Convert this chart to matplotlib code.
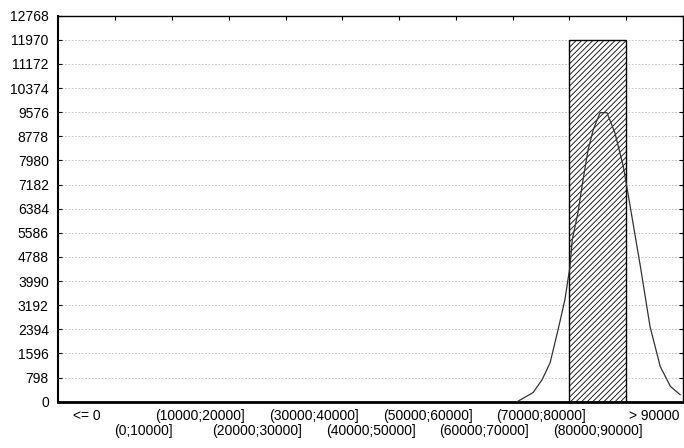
import matplotlib
matplotlib.use("Agg")
import matplotlib.pyplot as plt
import matplotlib.transforms as mtransforms
import numpy as np

# ── Data ──────────────────────────────────────────────────────────────────────
categories = ["<= 0", "(0;10000]", "(10000;20000]", "(20000;30000]",
              "(30000;40000]", "(40000;50000]", "(50000;60000]",
              "(60000;70000]", "(70000;80000]", "(80000;90000]", "> 90000"]
counts = [0, 0, 0, 0, 0, 0, 0, 0, 0, 11970, 0]

# expected normal curve (value, frequency)
curve_x = [70800, 73600, 75200, 76600, 78000, 79200, 80100, 80500, 81500,
           82400, 83300, 84200, 85400, 86600, 88000, 89500, 90200, 92500,
           94200, 96000, 97800, 99500]
curve_y = [0, 300, 730, 1290, 2380, 3370, 4470, 5360, 6250, 7340, 8340,
           9000, 9560, 9560, 8900, 7770, 7010, 4470, 2480, 1160, 500, 230]

y_ticks = [798 * i for i in range(17)]
BIN_W = 10000

plt.rcParams["font.family"] = ["Liberation Sans", "DejaVu Sans"]
plt.rcParams["hatch.linewidth"] = 0.6

fig = plt.figure(figsize=(6.84, 4.48), dpi=100)
ax = fig.add_axes([0.0855, 0.1035, 0.913, 0.8615])

idx = np.arange(len(categories))
ax.bar(idx, counts, width=1.0, facecolor="white", edgecolor="black",
       linewidth=1.0, hatch="//////", zorder=2)

# value -> category position: (0;10000] is centred at index 1
cx = [0.5 + v / BIN_W for v in curve_x]
ax.plot(cx, curve_y, color="#333333", linewidth=0.9, zorder=3)

ax.set_xlim(-0.5, len(categories) - 0.5)
ax.set_ylim(0, y_ticks[-1])
ax.set_yticks(y_ticks)
ax.set_yticklabels([str(t) for t in y_ticks], fontsize=10)

# category labels in two staggered rows
ax.set_xticks(idx)
ax.set_xticklabels([])
base = ax.get_xaxis_transform()
for i, c in enumerate(categories):
    dy = -7 if i % 2 == 0 else -22          # pixels below the axis
    tr = mtransforms.offset_copy(base, fig=fig, x=0, y=dy * 0.72,
                                 units="points")
    ax.text(i, 0, c, transform=tr, ha="center", va="top", fontsize=10)

ax.set_xticks(np.arange(len(categories) + 1) - 0.5, minor=True)
ax.tick_params(axis="x", which="major", length=0)
ax.tick_params(axis="x", which="minor", bottom=False, top=True,
               direction="in", length=3, width=0.8)
ax.tick_params(axis="y", which="major", left=True, right=True,
               direction="in", length=3, width=0.8, pad=7)

ax.yaxis.grid(True, linestyle=(0, (2, 2)), color="#bdbdbd", linewidth=0.6,
              zorder=0)
ax.set_axisbelow(True)

ax.spines["bottom"].set_linewidth(2.0)
ax.spines["left"].set_linewidth(1.5)
ax.spines["top"].set_linewidth(1.0)
ax.spines["right"].set_linewidth(1.0)

fig.savefig("out.png", dpi=100)
